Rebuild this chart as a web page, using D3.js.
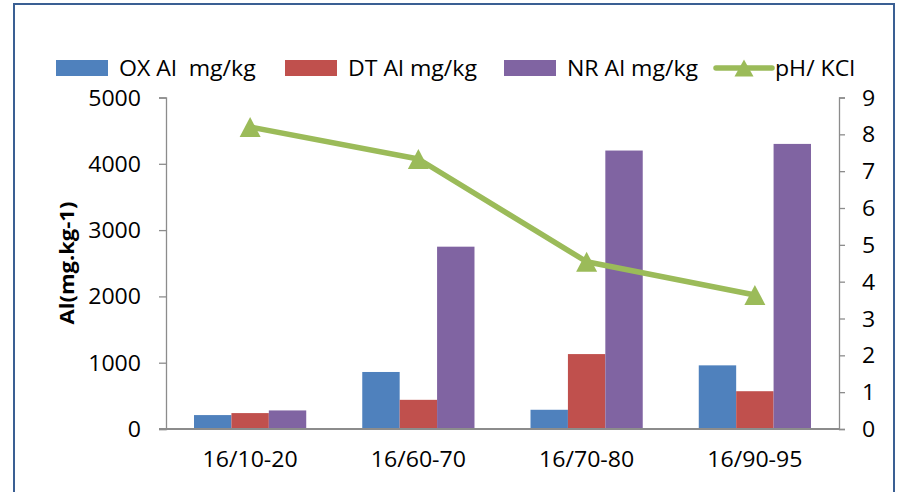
<!DOCTYPE html>
<html>
<head>
<meta charset="utf-8">
<script src="https://cdn.jsdelivr.net/npm/d3@7"></script>
<style>
  html, body { margin: 0; padding: 0; background: #fff; }
  svg { display: block; }
  text { font-family: "Open Sans", sans-serif; font-size: 21px; fill: #000; white-space: pre; transform-box: fill-box; }
  .wide-mid { transform-origin: 50% 50%; transform: scaleX(1.1); }
  .wide-start { transform-origin: 0% 50%; transform: scaleX(1.1); }
  .wide-end { transform-origin: 100% 50%; transform: scaleX(1.1); }
</style>
</head>
<body>
<svg id="chart" width="897" height="492"></svg>
<script>
// Soil profile samples
const categories = ["16/10-20", "16/60-70", "16/70-80", "16/90-95"];

// Aluminium fractions (mg/kg)
const oxAl = [210, 860, 290, 960];
const dtAl = [240, 440, 1130, 570];
const nrAl = [280, 2750, 4200, 4300];

// pH in KCl (right axis)
const phKCl = [8.2, 7.33, 4.54, 3.64];

const seriesNames = ["OX Al  mg/kg", "DT Al mg/kg", "NR Al mg/kg"];
const lineName = "pH/ KCl";
const leftTicks = [0, 1000, 2000, 3000, 4000, 5000];
const rightTicks = [0, 1, 2, 3, 4, 5, 6, 7, 8, 9];
const yTitle = "Al(mg.kg-1)";

const colors = ["#4F81BD", "#C0504D", "#8064A2"];
const lineColor = "#9BBB59";
const axisColor = "#8C8C8C";

const svg = d3.select("#chart");

// outer frame
svg.append("rect")
  .attr("x", 14).attr("y", 4)
  .attr("width", 880).attr("height", 500)
  .attr("fill", "none")
  .attr("stroke", "#3A5F93")
  .attr("stroke-width", 2);

const plot = { left: 166, right: 839, top: 97.5, bottom: 429 };

const x0 = d3.scaleBand()
  .domain(categories)
  .range([plot.left, plot.right])
  .paddingInner(0.333)
  .paddingOuter(0.1665);

const x1 = d3.scaleBand()
  .domain(d3.range(3))
  .range([0, x0.bandwidth()]);

const yL = d3.scaleLinear().domain([0, 5000]).range([plot.bottom, plot.top]);
const yR = d3.scaleLinear().domain([0, 9]).range([plot.bottom, plot.top]);

const barSeries = [oxAl, dtAl, nrAl];

// bars
const groups = svg.append("g").selectAll("g")
  .data(categories)
  .join("g")
  .attr("transform", d => `translate(${x0(d)},0)`);

groups.selectAll("rect")
  .data((d, i) => barSeries.map((s, k) => ({ k, v: s[i] })))
  .join("rect")
  .attr("x", d => x1(d.k))
  .attr("width", x1.bandwidth())
  .attr("y", d => yL(d.v))
  .attr("height", d => plot.bottom - yL(d.v))
  .attr("fill", d => colors[d.k]);

// left axis
const axL = svg.append("g")
  .attr("transform", `translate(${plot.left},0)`)
  .call(d3.axisLeft(yL).tickValues(leftTicks).tickSize(7).tickPadding(18).tickFormat(d3.format("d")));
axL.select(".domain").attr("stroke", axisColor).attr("stroke-width", 1.3);
axL.selectAll(".tick line").attr("stroke", axisColor).attr("stroke-width", 1.3);
axL.selectAll(".tick text").attr("class", "wide-end").attr("font-size", null).attr("font-family", null).attr("dy", "0.36em");

// right axis
const axR = svg.append("g")
  .attr("transform", `translate(${plot.right},0)`)
  .call(d3.axisRight(yR).tickValues(rightTicks).tickSize(6).tickPadding(17).tickFormat(d3.format("d")));
axR.select(".domain").attr("stroke", axisColor).attr("stroke-width", 1.3);
axR.selectAll(".tick line").attr("stroke", axisColor).attr("stroke-width", 1.3);
axR.selectAll(".tick text").attr("class", "wide-start").attr("font-size", null).attr("font-family", null).attr("dy", "0.36em");

// bottom axis
const axB = svg.append("g")
  .attr("transform", `translate(0,${plot.bottom})`)
  .call(d3.axisBottom(x0).tickSize(0).tickPadding(31));
axB.select(".domain").attr("stroke", axisColor).attr("stroke-width", 2).attr("d", `M${plot.left - 7},0H${plot.right}`);
axB.selectAll(".tick text").attr("class", "wide-mid").attr("font-size", null).attr("font-family", null).attr("dy", "0.35em");

// y-axis title (rotation on the wrapper so the text's own stretch stays intact)
svg.append("g")
  .attr("transform", `translate(67,263) rotate(-90)`)
  .append("text")
  .attr("class", "wide-mid")
  .attr("text-anchor", "middle")
  .attr("dy", "0.35em")
  .attr("font-weight", "bold")
  .style("font-size", "20px")
  .text(yTitle);

// pH line
const lineGen = d3.line()
  .x((d, i) => x0(categories[i]) + x0.bandwidth() / 2)
  .y(d => yR(d));

svg.append("path")
  .datum(phKCl)
  .attr("d", lineGen)
  .attr("fill", "none")
  .attr("stroke", lineColor)
  .attr("stroke-width", 5.5)
  .attr("stroke-linejoin", "round");

const tri = (cx, cy, w, h) => `M${cx},${cy - h / 2}L${cx + w / 2},${cy + h / 2}L${cx - w / 2},${cy + h / 2}Z`;

svg.append("g").selectAll("path")
  .data(phKCl)
  .join("path")
  .attr("d", (d, i) => tri(x0(categories[i]) + x0.bandwidth() / 2, yR(d), 21, 20))
  .attr("fill", lineColor);

// legend
const legendY = 68;
const legendX = [56, 285, 504];
seriesNames.forEach((name, k) => {
  svg.append("rect")
    .attr("x", legendX[k]).attr("y", legendY - 8)
    .attr("width", 52).attr("height", 16)
    .attr("fill", colors[k]);
  svg.append("text")
    .attr("class", "wide-start")
    .attr("x", legendX[k] + 63).attr("y", legendY)
    .attr("dy", "0.36em")
    .text(name);
});
const lx = 716;
svg.append("line")
  .attr("x1", lx).attr("x2", lx + 56)
  .attr("y1", legendY).attr("y2", legendY)
  .attr("stroke", lineColor).attr("stroke-width", 5.5).attr("stroke-linecap", "round");
svg.append("path")
  .attr("d", tri(lx + 28, legendY, 19, 17))
  .attr("fill", lineColor);
svg.append("text")
  .attr("class", "wide-start")
  .attr("x", lx + 59).attr("y", legendY)
  .attr("dy", "0.36em")
  .text(lineName);
</script>
</body>
</html>
